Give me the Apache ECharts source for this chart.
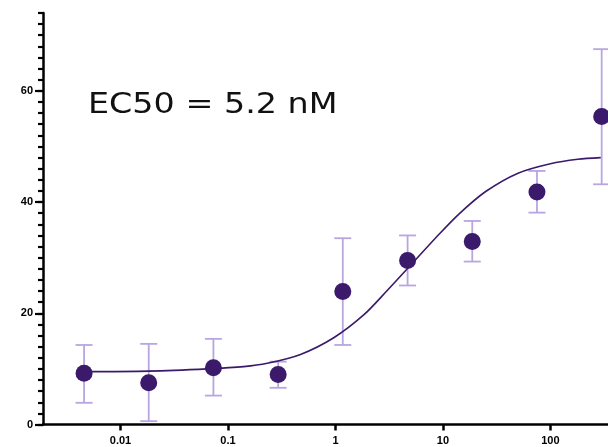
<!DOCTYPE html>
<html>
<head>
<meta charset="utf-8">
<script src="https://cdn.jsdelivr.net/npm/echarts@6/dist/echarts.min.js"></script>
<style>html,body{margin:0;padding:0;background:#fff}#c{width:608px;height:447px}</style>
</head>
<body>
<div id="c"></div>
<script>
// Concentrations (nM), 4-fold dilution series
const concentrations = [0.00458, 0.0183, 0.0732, 0.293, 1.17, 4.69, 18.75, 75, 300];
const meanValues     = [9.2, 7.5, 10.2, 9.0, 23.9, 29.5, 32.9, 41.8, 55.4];
const upperValues    = [14.3, 14.5, 15.4, 11.3, 33.5, 34.0, 36.6, 45.6, 67.5];
const lowerValues    = [3.9, 0.6, 5.2, 6.6, 14.3, 25.0, 29.3, 38.1, 43.2];

// Fitted curve
const curveConc   = [0.00459, 0.0184, 0.0643, 0.14, 0.232, 0.473, 0.964, 1.83, 3.0, 5.2, 8.5, 14, 25, 50, 100, 180, 294];
const curveValues = [9.5, 9.6, 10.0, 10.4, 11.0, 12.6, 15.6, 19.7, 24.0, 29.0, 33.5, 37.8, 41.9, 45.2, 46.9, 47.7, 48.0];

const xTickValues = [0.01, 0.1, 1, 10, 100];
const xTickLabels = ['0.01', '0.1', '1', '10', '100'];
const yTickValues = [0, 20, 40, 60];
const annotation = 'EC50 = 5.2 nM';

const lg = v => Math.log10(v);
const xTickLogs = xTickValues.map(lg);

const dark = '#3b1a6b';
const light = '#b9a5e2';

const chart = echarts.init(document.getElementById('c'));
const labelFont = { fontFamily: 'Liberation Sans', fontWeight: 'bold', fontSize: 11, color: '#000' };

chart.setOption({
  animation: false,
  grid: { left: 43, right: 0, top: 13, bottom: 22.5 },
  xAxis: {
    type: 'value',
    min: lg(0.0019), max: 2.536,
    axisLine: { onZero: false, lineStyle: { color: '#000', width: 2.5 } },
    axisTick: { show: true, length: 6, lineStyle: { color: '#000', width: 2.5 }, customValues: xTickLogs },
    axisLabel: Object.assign({ margin: 11, customValues: xTickLogs,
      formatter: v => { const i = xTickLogs.findIndex(t => Math.abs(t - v) < 1e-6); return i >= 0 ? xTickLabels[i] : ''; } }, labelFont),
    splitLine: { show: false }
  },
  yAxis: [
    {
      type: 'value', min: 0, max: 74, interval: 2, position: 'left',
      axisLine: { show: true, onZero: false, lineStyle: { color: '#000', width: 2.5 } },
      axisTick: { show: true, length: 5, lineStyle: { color: '#000', width: 2.2 } },
      axisLabel: { show: false },
      splitLine: { show: false }
    },
    {
      type: 'value', min: 0, max: 74, position: 'left', offset: 0,
      axisLine: { show: false, onZero: false },
      axisTick: { show: true, length: 8, lineStyle: { color: '#000', width: 2.2 }, customValues: yTickValues },
      axisLabel: Object.assign({ margin: 10, customValues: yTickValues }, labelFont),
      splitLine: { show: false }
    }
  ],
  graphic: [{
    type: 'text', left: 88, top: 91, scaleX: 1.15,
    style: { text: annotation, fontFamily: 'DejaVu Sans', fontWeight: 'normal', fontSize: 29, fill: '#111' }
  }],
  series: [
    {
      type: 'custom',
      clip: false,
      z: 1,
      data: concentrations.map((c, i) => [lg(c), lowerValues[i], upperValues[i]]),
      renderItem: (params, api) => {
        const x = api.value(0);
        const lo = api.coord([x, api.value(1)]);
        const hi = api.coord([x, api.value(2)]);
        const hw = 8.5;
        const st = { stroke: light, lineWidth: 1.8 };
        return { type: 'group', children: [
          { type: 'line', shape: { x1: lo[0], y1: lo[1], x2: hi[0], y2: hi[1] }, style: st },
          { type: 'line', shape: { x1: lo[0] - hw, y1: lo[1], x2: lo[0] + hw, y2: lo[1] }, style: st },
          { type: 'line', shape: { x1: hi[0] - hw, y1: hi[1], x2: hi[0] + hw, y2: hi[1] }, style: st }
        ]};
      }
    },
    {
      type: 'line', smooth: 0.3, symbol: 'none', z: 2,
      data: curveConc.map((c, i) => [lg(c), curveValues[i]]),
      lineStyle: { color: dark, width: 1.6 }
    },
    {
      type: 'scatter', clip: false, z: 3,
      symbolSize: 17,
      itemStyle: { color: dark, opacity: 1 },
      data: concentrations.map((c, i) => [lg(c), meanValues[i]])
    }
  ]
});
</script>
</body>
</html>
